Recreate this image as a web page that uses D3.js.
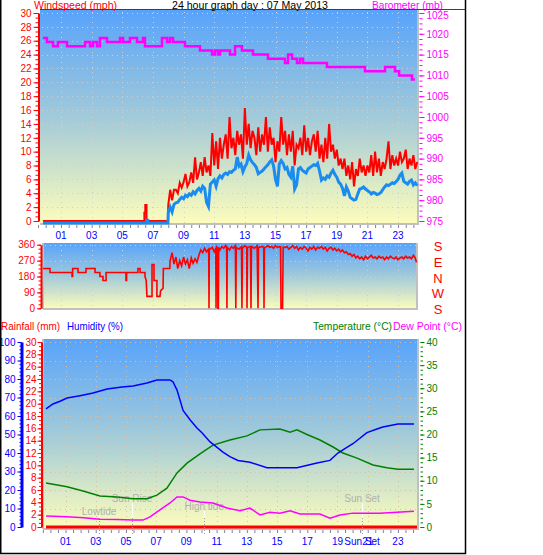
<!DOCTYPE html>
<html>
<head>
<meta charset="utf-8">
<script src="https://cdn.jsdelivr.net/npm/d3@7"></script>
<style>
  body { margin: 0; background: #fff; }
  svg { display: block; font-family: "Liberation Sans", Arial, sans-serif; }
</style>
</head>
<body>
<svg id="chart" width="543" height="555"></svg>
<script>
// ---------- data (hours of 07 May 2013) ----------
const hourTicks = [1, 3, 5, 7, 9, 11, 13, 15, 17, 19, 21, 23];
const hourLabels = ["01", "03", "05", "07", "09", "11", "13", "15", "17", "19", "21", "23"];

// calm night: [hour, mph]
const gustCalm = [[-0.18, 0], [6.44, 0], [6.44, 1.2], [6.5, 1.2], [6.5, 2.3], [6.58, 2.3], [6.58, 0], [7.98, 0]];
const avgCalm = [[-0.18, 0], [6.6, 0], [6.6, 0.4], [6.66, 0.4], [6.66, 0], [7.98, 0]];
// from 08:00, one reading every 7.5 minutes
const windStart = 8, windStep = 0.125;
const gustValues = [2.3,4.5,3.0,4.5,4.5,4.0,5.5,4.8,5.6,6.8, 5.0,5.6,7.0,5.5,9.2,6.0,7.0,8.5,6.5,9.2,
  7.0,8.0,6.5,12.7,8.0,11.5,7.5,12.0,9.0,11.0, 12.5,9.0,15.0,10.5,12.0,9.5,13.0,11.0,12.5,9.0,
  16.3,11.0,14.0,10.5,13.0,12.0,9.5,13.5,10.0,12.5, 11.0,15.0,10.0,13.5,11.0,12.0,8.5,11.5,10.0,15.0,
  11.0,13.0,9.5,12.5,10.0,13.0,8.0,11.0,10.5,12.0, 9.5,13.8,10.0,12.0,9.5,11.5,12.5,10.0,13.0,9.0,
  11.0,8.5,12.0,9.0,14.0,10.0,11.0,9.0,10.3,8.0, 9.0,7.5,9.0,6.5,8.0,6.0,8.5,5.0,7.5,6.5,
  9.0,7.0,8.0,6.5,8.0,7.0,9.5,6.5,10.0,7.0, 9.0,6.5,8.5,7.5,9.0,11.5,7.5,9.5,8.0,9.0,
  8.0,10.0,8.5,9.0,10.3,7.5,9.0,8.0,9.5,7.5,8.5];
const avgValues = [1.5,2.3,1.6,2.7,2.9,3.0,3.4,3.7,3.5,4.0, 3.8,4.2,4.0,4.5,4.2,4.7,5.0,4.6,5.3,5.0,
  3.0,2.4,5.6,5.9,6.2,5.3,6.4,6.8,6.5,7.0, 7.2,7.0,7.4,7.3,7.6,7.8,9.5,8.2,8.5,7.4,
  8.1,8.6,9.8,9.1,8.7,8.4,8.0,7.1,7.3,7.5, 7.8,8.1,8.4,8.8,9.1,8.2,6.3,5.3,8.5,9.0,
  8.6,7.8,8.0,7.0,6.6,8.2,4.9,5.5,7.8,8.0, 7.6,7.4,7.2,7.8,8.0,8.2,8.4,8.3,8.6,7.5,
  6.2,6.5,6.3,6.8,6.6,7.2,7.6,7.0,6.6,5.9, 5.6,5.0,3.9,5.2,4.6,3.7,3.5,3.3,3.4,4.2,
  4.9,5.0,5.2,4.9,4.7,4.5,4.2,4.4,4.3,4.1, 4.2,4.4,4.8,5.2,5.5,5.4,5.6,5.8,5.7,6.0,
  6.3,6.9,7.2,6.0,5.8,5.6,6.0,6.2,5.5,5.8,5.4];

// barometer steps: start hour of each level, mb
const baroHours = [-0.18,0.08,0.48,0.8,1.39,2.57,2.89,3.09,3.35,3.54,4.0,4.85,5.05,5.5,5.96,6.35,6.48,7.59,7.92,
  8.11,8.31,9.09,10.07,10.86,11.05,11.25,11.38,12.03,12.36,12.81,13.53,14.51,15.62,15.82,16.08,16.4,16.6,
  16.8,18.36,20.84,22.15,22.8,23.07,23.91,24.1];
const baroValues = [1019,1018,1017,1018,1017,1018,1017,1018,1017,1019,1018,1019,1018,1019,1018,1019,1017,1019,1018,
  1019,1018,1017,1016,1015,1016,1015,1016,1015,1017,1016,1015,1014,1013,1015,1014,1013,1014,
  1013,1012,1011,1012,1011,1010,1009,1009];
const baroTicks = [975, 980, 985, 990, 995, 1000, 1005, 1010, 1015, 1020, 1025];

// wind direction: [hour, degrees]
const dirPoints = [[-0.18,225],[0.28,225],[0.28,202.5],[1.72,202.5],[1.72,180],[1.76,180],[1.76,225],[2.11,225],
  [2.11,202.5],[2.63,202.5],[2.63,225],[3.22,225],[3.22,202.5],[3.54,202.5],[3.54,180],[3.74,180],[3.74,157.5],
  [3.94,157.5],[3.94,202.5],[5.24,202.5],[5.24,157.5],[5.28,157.5],[5.28,202.5],[6.02,202.5],[6.02,225],[6.16,225],
  [6.16,202.5],[6.48,202.5],[6.48,180],[6.56,157.5],[6.61,67.5],[6.94,67.5],[6.94,247.5],[7.07,247.5],[7.07,157.5],
  [7.26,157.5],[7.26,67.5],[7.46,67.5],[7.5,100],[7.66,112.5],[7.68,225],[8.1,225],[8.12,270],[8.25,315],[8.37,250],
  [8.5,290],[8.62,225],[8.75,270],[8.87,240],[9.0,290],[9.12,250],[9.25,275],[9.37,225],[9.5,285],[9.62,255],
  [9.75,280],[9.87,260],[10.0,300],[10.12,330],[10.25,315],[10.37,340],[10.5,320],[10.64,335],[10.66,0],[10.68,330],
  [10.87,345],[11.0,320],[11.1,340],[11.12,0],[11.14,350],[11.22,340],[11.24,0],[11.27,0],[11.29,345],[11.37,330],
  [11.5,350],[11.62,340],[11.75,355],[11.81,345],[11.83,0],[11.85,345],[12.0,330],[12.12,350],[12.25,340],
  [12.38,355],[12.41,0],[12.44,345],[12.62,335],[12.78,350],[12.81,0],[12.84,340],[13.0,355],[13.12,345],[13.14,0],
  [13.17,345],[13.37,350],[13.4,0],[13.43,350],[13.62,340],[13.8,355],[13.86,0],[13.89,345],[14.12,350],[14.23,345],
  [14.25,0],[14.28,340],[14.5,355],[14.62,345],[14.75,350],[14.87,340],[15.0,355],[15.12,345],[15.33,350],[15.36,0],
  [15.4,0],[15.46,0],[15.5,345],[15.62,345],[15.75,350],[15.87,335],[16.0,345],[16.12,355],[16.25,340],[16.37,350],
  [16.5,330],[16.62,345],[16.75,335],[16.87,350],[17.0,340],[17.12,325],[17.25,345],[17.37,335],[17.5,350],
  [17.62,330],[17.75,345],[17.87,340],[18.0,350],[18.12,335],[18.25,345],[18.37,325],[18.5,340],[18.62,345],
  [18.75,330],[18.87,340],[19.0,325],[19.12,335],[19.25,320],[19.37,330],[19.5,315],[19.62,320],[19.75,305],
  [19.87,310],[20.0,295],[20.12,305],[20.25,285],[20.37,295],[20.5,280],[20.62,290],[20.75,275],[20.87,295],
  [21.0,280],[21.12,290],[21.25,300],[21.37,285],[21.5,290],[21.62,280],[21.75,295],[21.87,285],[22.0,290],
  [22.12,275],[22.25,290],[22.37,280],[22.5,295],[22.62,285],[22.75,280],[22.87,290],[23.0,275],[23.12,285],
  [23.25,290],[23.37,280],[23.5,295],[23.62,285],[23.75,290],[23.87,280],[24.0,300],[24.12,285],[24.2,260]];
const dirTicks = [0, 90, 180, 270, 360];
const compassLabels = ["S", "E", "N", "W", "S"];

// bottom panel: [hour, value]
const humidity = [[-0.29,63.8],[0.17,66.5],[0.64,68],[1.1,69.7],[1.96,71],[2.82,72.4],[3.75,74.6],[4.74,75.7],
  [5.47,76.2],[6.39,77.8],[7.05,79.5],[7.92,79.5],[8.11,78.5],[8.38,74],[8.78,63],[9.24,58],[9.7,53.5],[10.03,51],
  [10.57,46],[11.03,43],[11.42,40.5],[11.88,38],[12.41,36],[13.21,35],[14.33,32],[16.32,32],[17.64,34.6],[18.5,36],
  [19.03,40],[19.62,43],[20.02,45],[20.95,51],[21.61,53],[22.0,54],[23.0,55.7],[24.06,55.7]];
const temperature = [[-0.29,9.5],[1.1,8.7],[2.16,7.8],[3.28,6.7],[4.41,6.5],[5.47,6.1],[6.39,6.1],[7.05,6.9],
  [7.71,8.4],[8.38,11.7],[9.04,13.8],[9.9,15.8],[10.76,17.7],[11.88,18.8],[13.01,19.7],[13.87,21],[15.19,21.2],
  [15.86,20.5],[16.32,21],[16.98,20],[17.84,18.8],[18.71,17.3],[19.36,16],[20.29,14.9],[21.35,13.4],[22.27,12.8],
  [23.0,12.5],[24.06,12.5]];
const dewPoint = [[-0.29,2.4],[1.1,2.2],[2.2,2.0],[3.28,1.7],[4.41,1.6],[5.47,1.5],[6.13,1.5],[6.59,2.2],[7.25,3.7],
  [7.92,5.2],[8.38,6.5],[8.78,6.5],[9.24,5.8],[9.9,5.4],[10.76,5.2],[11.69,4.1],[12.55,3.5],[13.21,4.1],[13.87,2.6],
  [14.53,3.2],[15.19,3.0],[15.86,3.5],[16.52,2.8],[17.84,2.8],[18.5,1.9],[19.16,2.6],[20.02,3.0],[21.15,3.0],
  [21.81,3.0],[24.06,3.4]];
const rainfall = [[-0.29,0],[24.3,0]];
const humidityTicks = [0,10,20,30,40,50,60,70,80,90,100];
const rainTicks = [0,2,4,6,8,10,12,14,16,18,20,22,24,26,28,30];
const tempTicks = [0,5,10,15,20,25,30,35,40];
const events = [
  { name: "Lowtide", hour: 3.22, labelY: 511 },
  { name: "Sun Rise", hour: 5.4, labelY: 498 },
  { name: "High tide", hour: 10.18, labelY: 506 },
  { name: "Sun Set", hour: 20.63, labelY: 498 }
];

// ---------- layout ----------
const svg = d3.select("#chart");
const topBox = { x0: 40, x1: 418, y0: 10, y1: 224 };
const dirBox = { x0: 43, x1: 417, y0: 243, y1: 309 };
const botBox = { x0: 43, x1: 418, y0: 339, y1: 529 };

const xTop = d3.scaleLinear().domain([0, 24]).range([45.7, 45.7 + 15.32 * 24]);
const xBot = d3.scaleLinear().domain([0, 24]).range([50.4, 50.4 + 15.11 * 24]);
const windY = d3.scaleLinear().domain([0, 30]).range([221, 13]);
const baroY = d3.scaleLinear().domain([975, 1025]).range([221, 13]);
const dirY = d3.scaleLinear().domain([0, 360]).range([308.3, 244.7]);
const humY = d3.scaleLinear().domain([0, 100]).range([527, 342]);
const rainY = d3.scaleLinear().domain([0, 30]).range([527, 342]);
const tempY = d3.scaleLinear().domain([0, 40]).range([527, 342]);

// background gradient
const defs = svg.append("defs");
const grad = defs.append("linearGradient").attr("id", "sky").attr("x1", 0).attr("y1", 0).attr("x2", 0).attr("y2", 1);
grad.append("stop").attr("offset", 0).attr("stop-color", "#58a3fb");
grad.append("stop").attr("offset", 0.5).attr("stop-color", "#a2cad9");
grad.append("stop").attr("offset", 1).attr("stop-color", "#fdfdbc");

function panel(box, dotColor, hScale, hValues, yScale, yValues) {
  svg.append("rect").attr("x", box.x0).attr("y", box.y0)
    .attr("width", box.x1 - box.x0).attr("height", box.y1 - box.y0).attr("fill", "url(#sky)");
  const g = svg.append("g").attr("stroke", dotColor).attr("stroke-width", 1).attr("stroke-dasharray", "1,4");
  g.selectAll(".v").data(hValues).join("line")
    .attr("x1", d => Math.round(hScale(d)) + 0.5).attr("x2", d => Math.round(hScale(d)) + 0.5)
    .attr("y1", box.y0 + 2).attr("y2", box.y1);
  g.selectAll(".h").data(yValues).join("line")
    .attr("x1", box.x0 + 2).attr("x2", box.x1)
    .attr("y1", d => Math.round(yScale(d)) + 0.5).attr("y2", d => Math.round(yScale(d)) + 0.5);
}

panel(topBox, "#cfcfcf", xTop, hourTicks, windY, d3.range(2, 31, 2));
panel(dirBox, "#cfcfcf", xTop, hourTicks, dirY, dirTicks);
panel(botBox, "#d8bfa0", xBot, hourTicks, humY, humidityTicks.slice(1));

// plot frames (grey right/bottom edges)
function frame(box, left) {
  const g = svg.append("g").attr("stroke", "#c0c0c0").attr("stroke-width", 2).attr("fill", "none");
  g.append("path").attr("d", `M${box.x1},${box.y0}V${box.y1}H${box.x0}`);
  if (left) g.append("path").attr("d", `M${box.x0},${box.y0}V${box.y1}`);
}
frame(topBox, false);
frame(dirBox, true);
frame(botBox, true);

// ---------- top panel: wind speed + barometer ----------
const gustData = gustCalm.concat(gustValues.map((v, i) => [windStart + i * windStep, v]));
const avgData = avgCalm.concat(avgValues.map((v, i) => [windStart + i * windStep, v]));
const windLine = d3.line().x(d => xTop(d[0])).y(d => windY(d[1]));

svg.append("path").datum(gustData).attr("d", windLine)
  .attr("fill", "none").attr("stroke", "#ff0000").attr("stroke-width", 2);
svg.append("path").datum(avgData).attr("d", windLine).attr("transform", "translate(0,2)")
  .attr("fill", "none").attr("stroke", "#1a8cf0").attr("stroke-width", 3);

const baroData = baroHours.map((h, i) => [h, baroValues[i]]);
svg.append("path").datum(baroData)
  .attr("d", d3.line().curve(d3.curveStepAfter).x(d => xTop(d[0])).y(d => baroY(d[1])))
  .attr("fill", "none").attr("stroke", "#ff00ff").attr("stroke-width", 2.5);

// ---------- wind direction ----------
svg.append("path").datum(dirPoints)
  .attr("d", d3.line().x(d => xTop(d[0])).y(d => dirY(d[1])))
  .attr("fill", "none").attr("stroke", "#ff0000").attr("stroke-width", 1.6);

// ---------- bottom panel ----------
const tLine = d3.line().x(d => xBot(d[0])).y(d => tempY(d[1]));
svg.append("path").datum(rainfall)
  .attr("d", d3.line().x(d => Math.min(xBot(d[0]), botBox.x1 - 1)).y(d => rainY(d[1])))
  .attr("fill", "none").attr("stroke", "#ff0000").attr("stroke-width", 3);

// event markers
const ev = svg.append("g");
ev.selectAll("line.w").data(events).join("line")
  .attr("x1", d => Math.round(xBot(d.hour)) + 0.5).attr("x2", d => Math.round(xBot(d.hour)) + 0.5)
  .attr("y1", d => d.labelY + 5).attr("y2", 518).attr("stroke", "#ffffff").attr("stroke-width", 1);
ev.selectAll("line.g").data(events).join("line")
  .attr("x1", d => Math.round(xBot(d.hour)) + 0.5).attr("x2", d => Math.round(xBot(d.hour)) + 0.5)
  .attr("y1", 518).attr("y2", 534).attr("stroke", "#a0a0a0").attr("stroke-dasharray", "1,2");
ev.selectAll("text").data(events).join("text")
  .attr("x", d => xBot(d.hour)).attr("y", d => d.labelY + 4)
  .attr("text-anchor", "middle").attr("font-size", 10).attr("fill", "#b0b0b0")
  .text(d => d.name);

svg.append("path").datum(dewPoint).attr("d", tLine)
  .attr("fill", "none").attr("stroke", "#ff00ff").attr("stroke-width", 1.5);
svg.append("path").datum(temperature).attr("d", tLine)
  .attr("fill", "none").attr("stroke", "#008000").attr("stroke-width", 1.5);
svg.append("path").datum(humidity)
  .attr("d", d3.line().x(d => xBot(d[0])).y(d => humY(d[1])))
  .attr("fill", "none").attr("stroke", "#0000ff").attr("stroke-width", 1.5);

// ---------- axes ----------
function styleAxis(g, color, size) {
  g.selectAll("line").attr("stroke", color);
  g.selectAll("path").attr("stroke", color).attr("stroke-width", 2);
  g.selectAll("text").attr("fill", color).attr("font-size", size).attr("font-family", "Liberation Sans, Arial, sans-serif");
}
function minorTicks(pos, axisFn, scale, values, color, len) {
  const g = svg.append("g").attr("transform", pos)
    .call(axisFn(scale).tickValues(values).tickSize(len).tickSizeOuter(0).tickFormat(""));
  g.select(".domain").remove();
  g.selectAll("line").attr("stroke", color);
}
const fmt = d3.format("d");

// windspeed
const windAx = svg.append("g").attr("transform", "translate(38.5,0)")
  .call(d3.axisLeft(windY).tickValues(d3.range(0, 31, 2)).tickSize(5).tickSizeOuter(0).tickPadding(2).tickFormat(fmt));
styleAxis(windAx, "#ff0000", 10);
minorTicks("translate(38.5,0)", d3.axisLeft, windY, d3.range(0, 30.01, 2 / 3), "#ff0000", 3);

// barometer
const baroAx = svg.append("g").attr("transform", "translate(419.5,0)")
  .call(d3.axisRight(baroY).tickValues(baroTicks).tickSize(5).tickSizeOuter(0).tickPadding(2).tickFormat(fmt));
styleAxis(baroAx, "#ff00ff", 10);
baroAx.select(".domain").remove();
baroAx.selectAll(".tick text").filter(d => d === 1025).attr("dy", "0.55em");
minorTicks("translate(419.5,0)", d3.axisRight, baroY, d3.range(975, 1025.01, 1.25), "#ff00ff", 3);

// top hours
const topHours = svg.append("g").attr("transform", `translate(0,${topBox.y1 + 1})`)
  .call(d3.axisBottom(xTop).tickValues(d3.range(-0.5, 24.01, 0.5)).tickSize(3).tickSizeOuter(0).tickFormat(""));
topHours.select(".domain").remove();
topHours.selectAll("line").attr("stroke", "#8080a0");
svg.append("g").selectAll("text").data(hourTicks).join("text")
  .attr("x", d => xTop(d)).attr("y", 239).attr("text-anchor", "middle")
  .attr("font-size", 10).attr("fill", "#0000ff").text((d, i) => hourLabels[i]);

// direction
const dirAx = svg.append("g").attr("transform", "translate(41,0)")
  .call(d3.axisLeft(dirY).tickValues(dirTicks).tickSize(4).tickSizeOuter(0).tickPadding(2).tickFormat(fmt));
styleAxis(dirAx, "#ff0000", 10);
minorTicks("translate(41,0)", d3.axisLeft, dirY, d3.range(0, 360.1, 22.5), "#ff0000", 2.5);
svg.append("g").selectAll("text").data(dirTicks.slice().reverse()).join("text")
  .attr("x", 438).attr("y", d => dirY(d) + 6).attr("text-anchor", "middle")
  .attr("font-size", 13).attr("fill", "#ff0000").text((d, i) => compassLabels[i]);

// humidity
const humAx = svg.append("g").attr("transform", "translate(21.5,0)")
  .call(d3.axisLeft(humY).tickValues(humidityTicks).tickSize(4).tickSizeOuter(0).tickPadding(2).tickFormat(fmt));
styleAxis(humAx, "#0000ff", 10);
humAx.select(".domain").attr("stroke-width", 3);
minorTicks("translate(21.5,0)", d3.axisLeft, humY, d3.range(0, 100.1, 2), "#0000ff", 2);

// rainfall
const rainAx = svg.append("g").attr("transform", "translate(41.5,0)")
  .call(d3.axisLeft(rainY).tickValues(rainTicks).tickSize(4).tickSizeOuter(0).tickPadding(1).tickFormat(fmt));
styleAxis(rainAx, "#ff0000", 10);
minorTicks("translate(41.5,0)", d3.axisLeft, rainY, d3.range(0, 30.01, 2 / 3), "#ff0000", 2.5);

// temperature
const tempAx = svg.append("g").attr("transform", "translate(420.5,0)")
  .call(d3.axisRight(tempY).tickValues(tempTicks).tickSize(4).tickSizeOuter(0).tickPadding(2).tickFormat(fmt));
styleAxis(tempAx, "#008000", 10);
tempAx.select(".domain").remove();
minorTicks("translate(420.5,0)", d3.axisRight, tempY, d3.range(0, 40.1, 1), "#008000", 2.5);

// bottom hours
const botHours = svg.append("g").attr("transform", `translate(0,${botBox.y1 + 1})`)
  .call(d3.axisBottom(xBot).tickValues(d3.range(-0.5, 24.01, 0.5)).tickSize(3).tickSizeOuter(0).tickFormat(""));
botHours.select(".domain").remove();
botHours.selectAll("line").attr("stroke", "#8080a0");
svg.append("g").selectAll("text").data(hourTicks).join("text")
  .attr("x", d => xBot(d)).attr("y", 545).attr("text-anchor", "middle")
  .attr("font-size", 10).attr("fill", "#0000ff").text((d, i) => hourLabels[i]);
svg.append("text").attr("x", xBot(events[3].hour)).attr("y", 545).attr("text-anchor", "middle")
  .attr("font-size", 10).attr("fill", "#0000ff").text("Sun Set");

// ---------- titles ----------
function label(x, y, text, color, width) {
  svg.append("text").attr("x", x).attr("y", y).attr("fill", color).attr("font-size", 11)
    .attr("textLength", width).attr("lengthAdjust", "spacingAndGlyphs").text(text);
}
label(34, 8.5, "Windspeed (mph)", "#ff0000", 83);
label(172, 8.5, "24 hour graph day : 07 May 2013", "#000000", 156);
label(372, 8.5, "Barometer (mb)", "#ff00ff", 71);
label(1, 330, "Rainfall (mm)", "#ff0000", 59);
label(67, 330, "Humidity (%)", "#0000ff", 56);
label(313, 330, "Temperature (°C)", "#008000", 79);
label(393, 330, "Dew Point (°C)", "#ff00ff", 69);

// ---------- outer frame ----------
svg.append("line").attr("x1", 40).attr("x2", 465).attr("y1", 9.5).attr("y2", 9.5).attr("stroke", "#404040");
svg.append("path").attr("d", "M0.75,0V553.5H465.5V0").attr("fill", "none").attr("stroke", "#000").attr("stroke-width", 1.5);
</script>
</body>
</html>
